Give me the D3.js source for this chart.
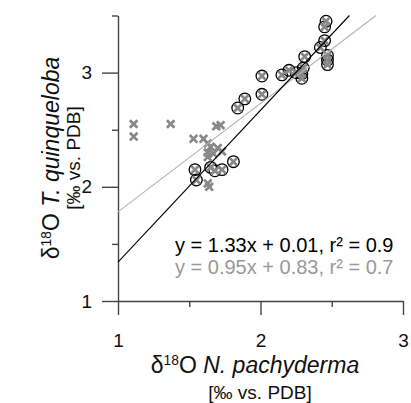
<!DOCTYPE html>
<html><head><meta charset="utf-8">
<script src="https://cdn.jsdelivr.net/npm/d3@7"></script>
<style>
html,body{margin:0;padding:0;background:#fff;}
text{font-family:"Liberation Sans",Arial,sans-serif;}
</style></head>
<body><svg id="c" width="411" height="403"></svg>
<script>
// gray-only points (N. pachyderma, T. quinqueloba)
const grayX = [1.11,1.11,1.37,1.69,1.72,1.53,1.60,1.63,1.65,1.70,1.73,1.63,1.67,1.63,1.63,1.64];
const grayY = [2.55,2.44,2.55,2.53,2.54,2.42,2.42,2.38,2.35,2.34,2.31,2.30,2.29,2.26,2.03,2.00];
// circled points
const circX = [1.54,1.55,1.65,1.68,1.73,1.81,1.84,1.89,2.01,2.01,2.15,2.20,2.25,2.29,2.29,2.30,2.31,2.42,2.45,2.45,2.46,2.47,2.47,2.47];
const circY = [2.15,2.06,2.17,2.14,2.15,2.22,2.69,2.77,2.81,2.97,2.98,3.02,3.00,2.99,2.95,3.04,3.14,3.22,3.28,3.40,3.45,3.15,3.11,3.07];
// regressions [slope, intercept]
const fitCirc = [1.33, 0.01];
const fitAll = [0.95, 0.83];
const eqLabels = ["y = 1.33x + 0.01, r\u00B2 = 0.9", "y = 0.95x + 0.83, r\u00B2 = 0.7"];
const xMajor = [1,2,3], xMinor = [1.5,2.5];
const yMajor = [1,2,3], yMinor = [1.5,2.5,3.5];

const svg = d3.select("#c");
const x = d3.scaleLinear().domain([1,3]).range([118,403]);
const y = d3.scaleLinear().domain([1,3.5]).range([301,15.5]);
const axisCol = "#444";

function styleAxis(g){
  g.selectAll("path,line").attr("stroke",axisCol).attr("stroke-width",1.4);
  g.selectAll("text").attr("font-size",19).attr("fill","#111")
   .attr("font-family","Liberation Sans, Arial, sans-serif");
}
// x axis
svg.append("g").attr("transform","translate(0,301)")
  .call(d3.axisBottom(x).tickValues(xMajor).tickFormat(d3.format("d")).tickSize(14).tickSizeOuter(0).tickPadding(19))
  .call(styleAxis);
svg.append("g").attr("transform","translate(0,301)")
  .call(d3.axisBottom(x).tickValues(xMinor).tickFormat("").tickSize(6).tickSizeOuter(0))
  .call(g=>g.select(".domain").remove()).call(styleAxis);
// y axis
svg.append("g").attr("transform","translate(118,0)")
  .call(d3.axisLeft(y).tickValues(yMajor).tickFormat(d3.format("d")).tickSize(16).tickSizeOuter(0).tickPadding(10))
  .call(styleAxis);
svg.append("g").attr("transform","translate(118,0)")
  .call(d3.axisLeft(y).tickValues(yMinor).tickFormat("").tickSize(6).tickSizeOuter(0))
  .call(g=>g.select(".domain").remove()).call(styleAxis);

// points
const circ = circX.map((v,i)=>[v,circY[i]]);
const gray = grayX.map((v,i)=>[v,grayY[i]]);
const all = gray.concat(circ);
svg.append("g").selectAll("circle").data(circ).join("circle")
  .attr("cx",d=>x(d[0])).attr("cy",d=>y(d[1])).attr("r",5.8)
  .attr("fill","none").attr("stroke","#000").attr("stroke-width",1.3);
const s = 3.8;
svg.append("g").selectAll("path").data(all).join("path")
  .attr("d",d=>{const cx=x(d[0]),cy=y(d[1]);return `M${cx-s},${cy-s}L${cx+s},${cy+s}M${cx-s},${cy+s}L${cx+s},${cy-s}`;})
  .attr("stroke","#888").attr("stroke-width",2.7).attr("fill","none");

// regression lines
function fitLine(f,col){
  const x0 = 1, y0 = f[0]*x0+f[1];
  let x1 = 3, y1 = f[0]*x1+f[1];
  if (y1 > 3.5){ y1 = 3.5; x1 = (3.5-f[1])/f[0]; }
  svg.append("line").attr("x1",x(x0)).attr("y1",y(y0)).attr("x2",x(x1)).attr("y2",y(y1))
    .attr("stroke",col).attr("stroke-width",1.1);
}
fitLine(fitAll,"#b4b4b4");
fitLine(fitCirc,"#000");

// equations
svg.append("text").attr("x",175).attr("y",252).attr("font-size",20).attr("fill","#000").text(eqLabels[0]);
svg.append("text").attr("x",175).attr("y",274).attr("font-size",20).attr("fill","#999").text(eqLabels[1]);

// axis titles
function title(sel, species){
  sel.append("tspan").text("\u03B4");
  sel.append("tspan").attr("font-size","0.6em").attr("dy","-0.55em").text("18");
  sel.append("tspan").attr("dy","0.33em").text("O ");
  sel.append("tspan").attr("font-style","italic").text(species);
}
svg.append("text").attr("x",255).attr("y",373).attr("text-anchor","middle").attr("font-size",23).attr("fill","#111")
  .call(t=>title(t,"N. pachyderma"));
svg.append("text").attr("x",260).attr("y",399).attr("text-anchor","middle").attr("font-size",19).attr("fill","#111")
  .text("[\u2030 vs. PDB]");
const yt = svg.append("g").attr("transform","translate(0,158) rotate(-90)");
yt.append("text").attr("x",0).attr("y",59).attr("text-anchor","middle").attr("font-size",23).attr("fill","#111")
  .call(t=>title(t,"T. quinqueloba"));
yt.append("text").attr("x",0).attr("y",80).attr("text-anchor","middle").attr("font-size",19).attr("fill","#111")
  .text("[\u2030 vs. PDB]");
</script></body></html>
